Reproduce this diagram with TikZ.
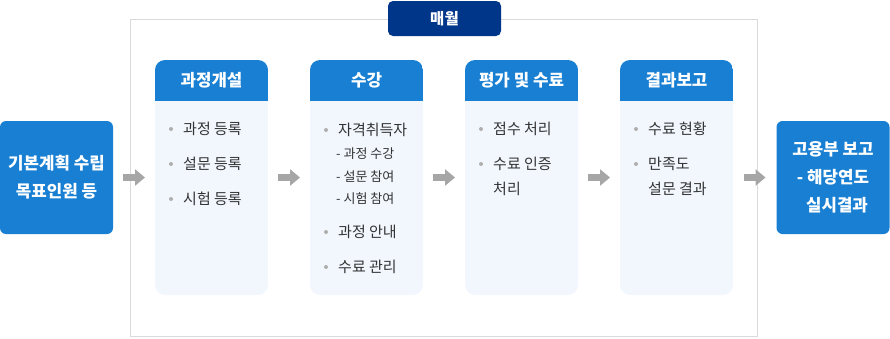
\documentclass[tikz,border=0pt]{standalone}
\usepackage{fontspec}
\setmainfont{Noto Sans CJK KR}
\usepackage{tikz}
\usetikzlibrary{positioning,arrows.meta}
\definecolor{boxblue}{RGB}{24,127,211}
\definecolor{tagnavy}{RGB}{0,54,138}
\definecolor{bodyfill}{RGB}{242,247,254}
\definecolor{framegray}{RGB}{218,218,218}
\definecolor{arrowgray}{RGB}{166,166,166}
\definecolor{txtgray}{RGB}{51,51,51}
\definecolor{dotgray}{RGB}{175,175,175}

\begin{document}
\begin{tikzpicture}[x=1pt, y=-1pt, label distance=10pt,
  endbox/.style={fill=boxblue, rounded corners=6pt, minimum width=113pt, minimum height=113pt, inner sep=0pt, outer sep=0pt, text=white, font=\bfseries\fontsize{16.8}{28}\selectfont, align=center},
  colbody/.style={fill=bodyfill, rounded corners=10pt, minimum width=113pt, minimum height=235pt, inner sep=0pt, outer sep=0pt},
  head/.style={fill=boxblue, minimum width=113pt, minimum height=41pt, inner sep=0pt, outer sep=0pt, text=white, font=\bfseries\fontsize{16.8}{20}\selectfont},
  frame/.style={draw=framegray, line width=1pt, minimum width=627pt, minimum height=317pt, inner sep=0pt},
  tag/.style={fill=tagnavy, rounded corners=5pt, minimum width=113pt, minimum height=35pt, inner sep=0pt, text=white, font=\bfseries\fontsize{15.5}{18}\selectfont},
  dot/.style={circle, fill=dotgray, minimum size=4pt, inner sep=0pt, outer sep=0pt},
  item/.style={anchor=west, inner sep=0pt, text=txtgray, font=\fontsize{15}{17}\selectfont, label={[dot]left:}},
  cont/.style={anchor=west, inner sep=0pt, text=txtgray, font=\fontsize{15}{17}\selectfont},
  sub/.style={anchor=west, inner sep=0pt, text=txtgray, font=\fontsize{13}{15}\selectfont},
  flow/.style={arrowgray, line width=7pt, -{Triangle[length=10pt, width=16pt]}, shorten <=10pt, shorten >=10pt},
]
\useasboundingbox (0,0) rectangle (890,338);

% Monthly frame
\node[frame] (monthly) at (443.5,177.5) {};
\node[tag] (tag) at (444.5,18.5) {매월};

% Start and end
\node[endbox] (plan) at (56.5,177.5) {기본계획 수립\\목표인원 등};
\node[endbox] (report) at (833,177.5) {고용부 보고\\- 해당연도\\\hspace*{8pt}실시결과};

% Columns
\node[colbody] (col_a) at (211.5,177.5) {};
\node[colbody] (col_b) at (366.5,177.5) {};
\node[colbody] (col_c) at (521.5,177.5) {};
\node[colbody] (col_d) at (676.5,177.5) {};

% Headers
\begin{scope}
\clip[rounded corners=10pt] (col_a.north west) rectangle (col_a.south east);
\node[head, below=0pt of col_a.north] (h_a) {과정개설};
\end{scope}
\begin{scope}
\clip[rounded corners=10pt] (col_b.north west) rectangle (col_b.south east);
\node[head, below=0pt of col_b.north] (h_b) {수강};
\end{scope}
\begin{scope}
\clip[rounded corners=10pt] (col_c.north west) rectangle (col_c.south east);
\node[head, below=0pt of col_c.north] (h_c) {평가 및 수료};
\end{scope}
\begin{scope}
\clip[rounded corners=10pt] (col_d.north west) rectangle (col_d.south east);
\node[head, below=0pt of col_d.north] (h_d) {결과보고};
\end{scope}

% Items
\node[item] (a1) at (183,129) {과정 등록};
\node[item] (a2) at (183,164) {설문 등록};
\node[item] (a3) at (183,199) {시험 등록};

\node[item] (b1) at (338,130) {자격취득자};
\node[sub] (b1a) at (336,154) {- 과정 수강};
\node[sub] (b1b) at (336,177) {- 설문 참여};
\node[sub] (b1c) at (336,199) {- 시험 참여};
\node[item] (b2) at (338,232) {과정 안내};
\node[item] (b3) at (338,267) {수료 관리};

\node[item] (c1) at (493,129) {점수 처리};
\node[item] (c2) at (493,164) {수료 인증};
\node[cont] (c2x) at (493,189) {처리};

\node[item] (d1) at (648,129) {수료 현황};
\node[item] (d2) at (648,164) {만족도};
\node[cont] (d2x) at (648,189) {설문 결과};

% Flow arrows
\draw[flow] (plan) -- (col_a);
\draw[flow] (col_a) -- (col_b);
\draw[flow] (col_b) -- (col_c);
\draw[flow] (col_c) -- (col_d);
\draw[flow, shorten <=11pt, shorten >=11pt] (col_d) -- (report);

\end{tikzpicture}
\end{document}
